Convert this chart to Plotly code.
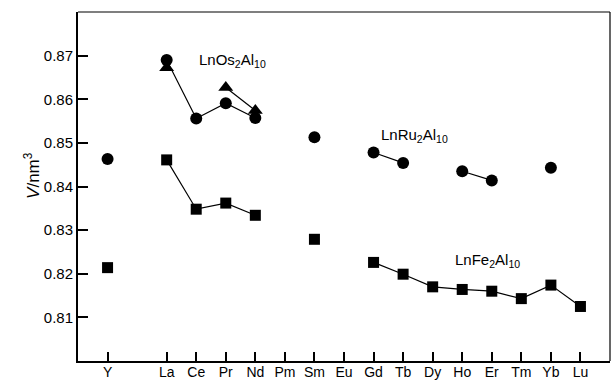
import plotly.graph_objects as go

elements = ["Y", "", "La", "Ce", "Pr", "Nd", "Pm", "Sm", "Eu", "Gd", "Tb", "Dy", "Ho", "Er", "Tm", "Yb", "Lu"]
positions = list(range(len(elements)))

ru2al10 = [0.8463, None, 0.8690, 0.8556, 0.8591, 0.8557, None, 0.8513, None, 0.8478, 0.8454, None, 0.8435, 0.8414, None, 0.8443, None]
os2al10 = [None, None, 0.8672, None, 0.8627, 0.8574, None, None, None, None, None, None, None, None, None, None, None]
fe2al10 = [0.8214, None, 0.8461, 0.8348, 0.8362, 0.8334, None, 0.8279, None, 0.8226, 0.8199, 0.8170, 0.8164, 0.8160, 0.8143, 0.8174, 0.8125]

tick_vals = [p for p, e in zip(positions, elements) if e]
tick_text = [e for e in elements if e]

fig = go.Figure()
line = dict(color="black", width=1.2)
fig.add_trace(go.Scatter(x=positions, y=fe2al10, mode="lines+markers", line=line,
                         marker=dict(symbol="square", size=11, color="black"), connectgaps=False))
fig.add_trace(go.Scatter(x=positions, y=os2al10, mode="lines+markers", line=line,
                         marker=dict(symbol="triangle-up", size=13, color="black"), connectgaps=False))
fig.add_trace(go.Scatter(x=positions, y=ru2al10, mode="lines+markers", line=line,
                         marker=dict(symbol="circle", size=12, color="black"), connectgaps=False))

fam = "Liberation Sans, Arial, sans-serif"
font = dict(family=fam, size=15, color="black")
xfont = dict(family=fam, size=14, color="black")

fig.update_layout(
    width=612, height=381,
    margin=dict(l=78, r=2, t=12, b=20),
    paper_bgcolor="white", plot_bgcolor="white",
    showlegend=False,
    font=font,
    xaxis=dict(range=[-1, 17], tickvals=tick_vals, ticktext=tick_text, automargin=False,
               showgrid=False, zeroline=False, showline=True, linecolor="black", linewidth=2,
               ticks="inside", ticklen=9, tickwidth=2, tickcolor="black", tickfont=xfont,
               ticklabelstandoff=-3),
    yaxis=dict(range=[0.800, 0.880], tickvals=[0.81, 0.82, 0.83, 0.84, 0.85, 0.86, 0.87],
               ticktext=["0.81", "0.82", "0.83", "0.84", "0.85", "0.86", "0.87"], automargin=False,
               showgrid=False, zeroline=False, showline=True, linecolor="black", linewidth=2,
               ticks="inside", ticklen=10, tickwidth=2, tickcolor="black", tickfont=font),
    shapes=[
        dict(type="line", xref="paper", yref="paper", x0=0, x1=1, y0=1, y1=1, line=dict(color="black", width=1.2)),
        dict(type="line", xref="paper", yref="paper", x0=1, x1=1, y0=0, y1=1, line=dict(color="black", width=1.2)),
    ],
    annotations=[
        dict(x=-0.111, y=0.533, xref="paper", yref="paper", text="<i>V</i>/nm<sup>3</sup>", textangle=-90,
             showarrow=False, font=dict(family=fam, size=17, color="black")),
        dict(x=3.03, y=0.8688, text="LnOs<sub>2</sub>Al<sub>10</sub>", showarrow=False, xanchor="left", font=dict(family=fam, size=15, color="black")),
        dict(x=9.18, y=0.8516, text="LnRu<sub>2</sub>Al<sub>10</sub>", showarrow=False, xanchor="left", font=dict(family=fam, size=15, color="black")),
        dict(x=11.69, y=0.8231, text="LnFe<sub>2</sub>Al<sub>10</sub>", showarrow=False, xanchor="left", font=dict(family=fam, size=15, color="black")),
    ],
)

fig.write_html("out.html", config={"displayModeBar": False},
               post_script="document.body.style.margin='0';document.body.style.overflow='hidden';")
